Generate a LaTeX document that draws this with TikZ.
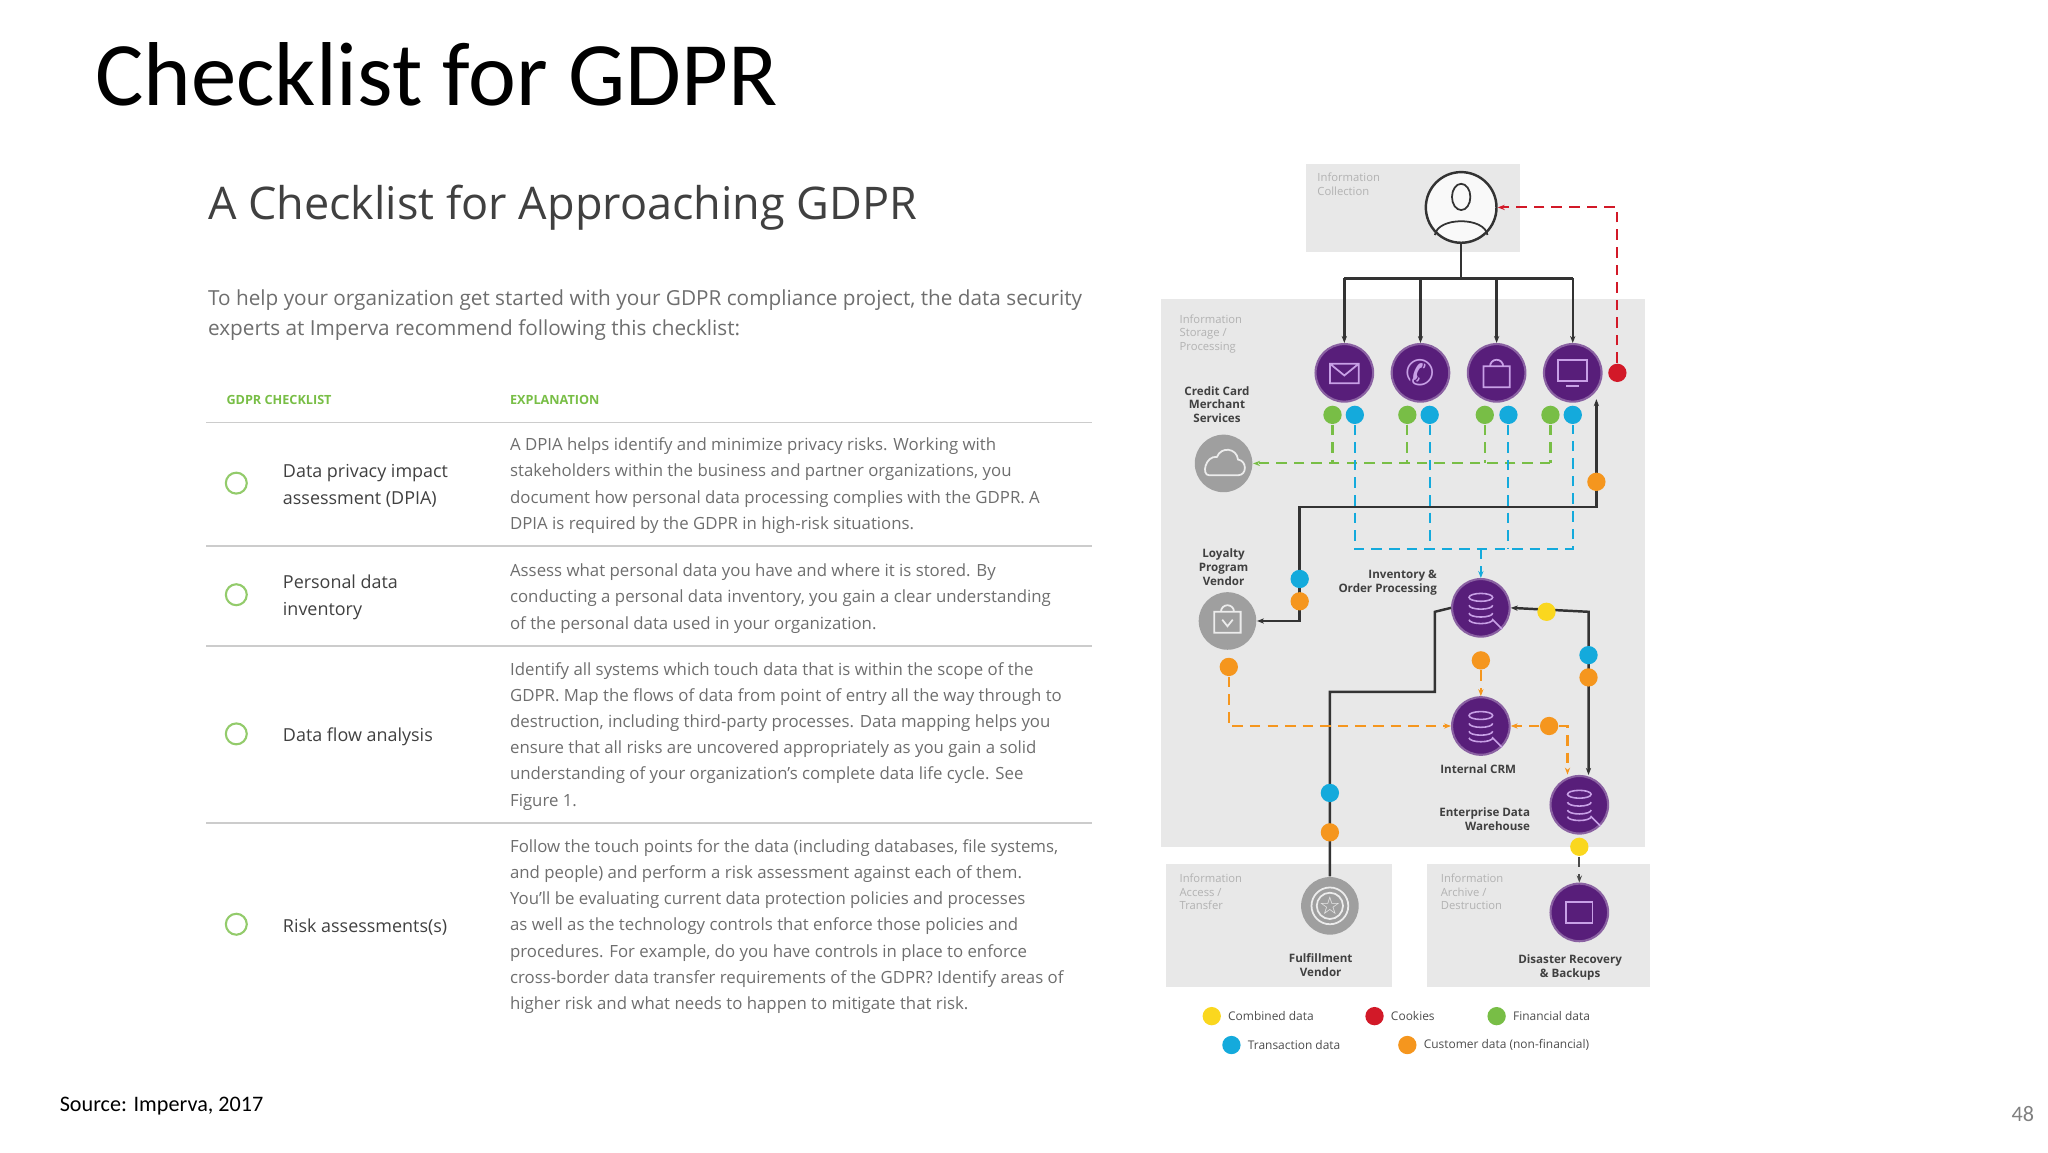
\documentclass[tikz,border=0pt]{standalone}
\usepackage{fontspec}
\setmainfont{Open Sans}
\newfontfamily\calfont{Carlito}
\usetikzlibrary{arrows.meta}
\definecolor{pur}{RGB}{88,30,122}
\definecolor{boxg}{RGB}{232,232,232}
\definecolor{txtg}{RGB}{110,110,110}
\definecolor{cgreen}{RGB}{120,190,70}
\definecolor{cblue}{RGB}{20,170,220}
\definecolor{corange}{RGB}{245,150,30}
\definecolor{cyellow}{RGB}{250,215,30}
\definecolor{cred}{RGB}{210,25,40}
\definecolor{icon}{RGB}{200,160,230}
\tikzset{
 pc/.style={circle,fill=pur,draw=pur!70!white,line width=0.6pt,minimum size=44*0.3722pt,inner sep=0},
 gc/.style={circle,fill=gray!75,minimum size=44*0.3722pt,inner sep=0},
 dt/.style={circle,fill=#1,minimum size=14*0.3722pt,inner sep=0},
 lbl/.style={font=\fontsize{3.3}{3.9}\selectfont\bfseries,text=black!75,align=center,inner sep=0},
 blbl/.style={font=\fontsize{3.2}{3.9}\selectfont,text=gray!60,align=left,anchor=north west,inner sep=0},
 con/.style={line width=0.7pt,black!80,-{Stealth[length=2pt]}},
 dsh/.style={line width=0.6pt,densely dashed,-{Stealth[length=2pt]}},
 expl/.style={font=\fontsize{4.78}{7.44}\selectfont,text=txtg,anchor=north west,align=left,inner sep=0},
 rown/.style={font=\fontsize{5.1}{7.6}\selectfont,text=black!75,anchor=west,align=left,inner sep=0},
 chk/.style={circle,draw=cgreen!80,line width=0.6pt,minimum size=16*0.3722pt,inner sep=0},
 leg/.style={font=\fontsize{3.4}{4}\selectfont,text=black!70,anchor=west,inner sep=0},
 ic/.style={white!85!gray,line width=0.5pt},
}
\begin{document}
\begin{tikzpicture}[x=0.013128cm,y=-0.013128cm]
\useasboundingbox (0,0) rectangle (1560,877.5);
% titles
\node[anchor=base west,inner sep=0,font=\calfont\fontsize{25.8}{30}\selectfont] (title) at (72,80) {Checklist for GDPR};
\node[anchor=base west,inner sep=0,font=\fontsize{12.8}{14}\selectfont,text=black!75] (sub) at (158,167) {A Checklist for Approaching GDPR};
\node[anchor=north west,inner sep=0,font=\fontsize{5.9}{8.6}\selectfont,text=txtg,align=left] (intro) at (158,220) {To help your organization get started with your GDPR compliance project, the data security\\experts at Imperva recommend following this checklist:};
\node[anchor=west,inner sep=0,font=\fontsize{3.6}{4}\selectfont\bfseries,text=cgreen] (h1) at (172,305) {GDPR CHECKLIST};
\node[anchor=west,inner sep=0,font=\fontsize{3.6}{4}\selectfont\bfseries,text=cgreen] (h2) at (388,305) {EXPLANATION};
\foreach \yy in {322,416,492,627} \draw[gray!40,line width=0.4pt] (157,\yy) -- (832,\yy);
\node[chk] (c1) at (180,368) {};
\node[chk] (c2) at (180,453) {};
\node[chk] (c3) at (180,559) {};
\node[chk] (c4) at (180,704) {};
\node[rown] (r1) at (215,370) {Data privacy impact\\assessment (DPIA)};
\node[rown] (r2) at (215,455) {Personal data\\inventory};
\node[rown] (r3) at (215,561) {Data flow analysis};
\node[rown] (r4) at (215,706) {Risk assessments(s)};
\node[expl] (e1) at (388,333) {A DPIA helps identify and minimize privacy risks. Working with\\stakeholders within the business and partner organizations, you\\document how personal data processing complies with the GDPR. A\\DPIA is required by the GDPR in high-risk situations.};
\node[expl] (e2) at (388,429) {Assess what personal data you have and where it is stored. By\\conducting a personal data inventory, you gain a clear understanding\\of the personal data used in your organization.};
\node[expl] (e3) at (388,504) {Identify all systems which touch data that is within the scope of the\\GDPR. Map the flows of data from point of entry all the way through to\\destruction, including third-party processes. Data mapping helps you\\ensure that all risks are uncovered appropriately as you gain a solid\\understanding of your organization's complete data life cycle. See\\Figure 1.};
\node[expl] (e4) at (388,639) {Follow the touch points for the data (including databases, file systems,\\and people) and perform a risk assessment against each of them.\\You'll be evaluating current data protection policies and processes\\as well as the technology controls that enforce those policies and\\procedures. For example, do you have controls in place to enforce\\cross-border data transfer requirements of the GDPR? Identify areas of\\higher risk and what needs to happen to mitigate that risk.};
\node[anchor=base west,inner sep=0,font=\calfont\fontsize{6.3}{7}\selectfont] (src) at (45,847) {Source: Imperva, 2017};
\node[anchor=base east,inner sep=0,font=\calfont\fontsize{6.3}{7}\selectfont,text=gray] (pg) at (1550,854) {48};
% boxes
\fill[boxg] (995,125) rectangle (1158,192);
\fill[boxg] (884,228) rectangle (1253,645);
\fill[boxg] (888,658) rectangle (1060,752);
\fill[boxg] (1087,658) rectangle (1257,752);
\node[blbl] (b1) at (1003,131) {Information\\Collection};
\node[blbl] (b2) at (898,239) {Information\\Storage /\\Processing};
\node[blbl] (b3) at (898,665) {Information\\Access /\\Transfer};
\node[blbl] (b4) at (1097,665) {Information\\Archive /\\Destruction};
% person
\node[circle,draw=black!80,fill=white!95!gray,line width=0.7pt,minimum size=54*0.3722pt,inner sep=0] (person) at (1113,158) {};
\draw[black!80,line width=0.5pt] (1113,150) ellipse (7 and 10);
\draw[black!80,line width=0.5pt] (1093,179) .. controls (1095,165) and (1131,165) .. (1133,179);
% top circles
\node[pc] (mail) at (1024,284) {};
\node[pc] (phone) at (1082,284) {};
\node[pc] (bag) at (1140,284) {};
\node[pc] (mon) at (1198,284) {};
\draw[icon,line width=0.5pt] (1013,277) rectangle (1035,292) (1013,277) -- (1024,286) -- (1035,277);
\node[text=icon,inner sep=0,font=\fontsize{10}{10}\selectfont] at (phone) {\fontspec{DejaVu Sans}✆};
\draw[icon,line width=0.5pt] (1130,279) rectangle (1150,295) (1135,279) arc (180:360:5);
\draw[icon,line width=0.5pt] (1187,274) rectangle (1209,290) (1193,294) -- (1203,294);
\node[dt=cred] (red) at (1232,284) {};
\coordinate (bus) at (1113,212);
\draw[line width=0.7pt,black!80] (person) -- (bus);
\draw[line width=0.7pt,black!80] (1024,212) -- (1198,212);
\foreach \n in {mail,phone,bag,mon} \draw[con] (\n |- bus) -- (\n);
\draw[dsh,cred] (red) |- (person);
% green / blue dots
\node[gc] (cloud) at (932,353) {};
\draw[ic] (921,362) -- (943,362) .. controls (950,362) and (950,351) .. (943,350) .. controls (942,341) and (930,340) .. (927,348) .. controls (918,347) and (915,362) .. (921,362);
\foreach \i/\xg/\xb in {1/1015/1032,2/1072/1089,3/1131/1149,4/1181/1198} {
 \node[dt=cgreen] (g\i) at (\xg,316) {};
 \node[dt=cblue] (bl\i) at (\xb,316) {};
}
\coordinate (gy) at (1181,353);
\draw[cgreen,line width=0.6pt,densely dashed] (g1) -- (g1 |- gy) (g2) -- (g2 |- gy) (g3) -- (g3 |- gy) (g4) -- (gy);
\draw[dsh,cgreen] (gy) -- (cloud);
\coordinate (by) at (1198,418);
\draw[cblue,line width=0.6pt,densely dashed] (bl1) -- (bl1 |- by) -- (by) -- (bl4) (bl2) -- (bl2 |- by) (bl3) -- (bl3 |- by);
\node[lbl] (lcc) at (927,308) {Credit Card\\Merchant\\Services};
% middle
\node[gc] (loy) at (935,473) {};
\draw[ic] (925,466) rectangle (945,482) (930,466) arc (180:360:5);
\draw[ic] (931,472) -- (935,477) -- (939,472);
\node[lbl] (lloy) at (932,432) {Loyalty\\Program\\Vendor};
\node[pc] (inv) at (1128,463) {};
\node[lbl,align=right,anchor=east] (linv) at (1095,444) {Inventory \&\\Order Processing};
\node[pc] (crm) at (1128,553) {};
\node[lbl] (lcrm) at (1126,586) {Internal CRM};
\node[pc] (edw) at (1203,613) {};
\node[lbl,align=right,anchor=east] (ledw) at (1166,624) {Enterprise Data\\Warehouse};
\node[pc] (dr) at (1203,695) {};
\draw[icon,line width=0.5pt] (1193,687) rectangle (1213,703);
\node[lbl] (ldr) at (1196,737) {Disaster Recovery\\\& Backups};
\node[gc] (ful) at (1013,690) {};
\draw[ic] (ful) circle (14) (ful) circle (10);
\node[white!85!gray,inner sep=0,font=\fontsize{7}{7}\selectfont] at (ful) {\fontspec{DejaVu Sans}☆};
\node[lbl] (lful) at (1006,735) {Fulfillment\\Vendor};
\foreach \n in {inv,crm,edw} {
 \draw[icon,line width=0.45pt] ([shift={(0,-8)}]\n) ellipse (9 and 3);
 \draw[icon,line width=0.45pt] ([shift={(-9,-8)}]\n) -- ([shift={(-9,9)}]\n) arc (180:0:9 and 3) -- ([shift={(9,-8)}]\n);
 \draw[icon,line width=0.45pt] ([shift={(-9,-2)}]\n) arc (180:0:9 and 3) ([shift={(-9,4)}]\n) arc (180:0:9 and 3);
}
% blue to inventory
\coordinate (bin) at (1128,418);
\draw[dsh,cblue] (bin) -- (inv);
% black path loyalty <-> monitor
\coordinate (k1) at (990,386);
\coordinate (k2) at (1216,386);
\coordinate (k3) at (1216,304);
\draw[line width=0.7pt,black!80,{Stealth[length=2pt]}-{Stealth[length=2pt]}] (loy) -| (k1) -- (k2) -- (k3);
\node[dt=corange] at (1216,367) {};
\node[dt=cblue] at (990,441) {};
\node[dt=corange] at (990,458) {};
% black path inventory <-> edw
\coordinate (k4) at (1210,466);
\draw[line width=0.7pt,black!80,{Stealth[length=2pt]}-{Stealth[length=2pt]}] (inv.east) -- (k4) -- (edw.north -| k4);
\node[dt=cyellow] at (1178,466) {};
\node[dt=cblue] at (1210,499) {};
\node[dt=corange] at (1210,516) {};
% black path inventory - fulfillment
\coordinate (k5) at (1093,466);
\coordinate (k6) at (1093,527);
\coordinate (k7) at (1013,527);
\draw[line width=0.7pt,black!80] (inv.west) -- (k5) -- (k6) -- (k7) -- (ful);
\node[dt=cblue] at (1013,604) {};
\node[dt=corange] at (1013,634) {};
% orange flows
\node[dt=corange] (o1) at (1128,503) {};
\draw[dsh,corange] (o1) -- (crm);
\node[dt=corange] (o2) at (936,508) {};
\draw[dsh,corange] (o2) |- (crm);
\node[dt=corange] (o3) at (1180,553) {};
\draw[dsh,corange] (o3) -- (crm);
\coordinate (k8) at (1194,553);
\draw[dsh,corange] (o3) -- (k8) -- (1194,590);
\node[dt=cyellow] (y2) at (1203,645) {};
\draw[dsh,black!70,line width=0.5pt] (y2) -- (dr);
% legend
\node[dt=cyellow] (ly) at (923,774) {}; \node[leg] at (935,774) {Combined data};
\node[dt=cred] (lr) at (1047,774) {}; \node[leg] at (1059,774) {Cookies};
\node[dt=cgreen] (lg) at (1140,774) {}; \node[leg] at (1152,774) {Financial data};
\node[dt=cblue] (lb) at (938,796) {}; \node[leg] at (950,796) {Transaction data};
\node[dt=corange] (lo) at (1072,796) {}; \node[leg] at (1084,796) {Customer data (non-financial)};
\end{tikzpicture}
\end{document}
